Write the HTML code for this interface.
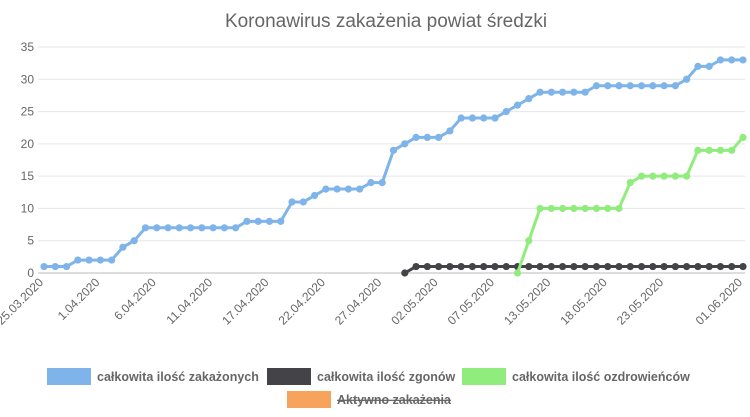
<!DOCTYPE html>
<html><head><meta charset="utf-8"><style>
body{margin:0;background:#fff;}
svg{display:block;font-family:"Liberation Sans",Arial,sans-serif;}
</style></head><body>
<svg id="chart" width="750" height="417" viewBox="0 0 750 417">
<text x="386" y="27" text-anchor="middle" font-size="19" fill="#666">Koronawirus zakażenia powiat średzki</text>
<g id="grid"></g><g id="xlabels"></g><g id="series"></g>
<g font-size="12.5" font-weight="bold" fill="#666">
<g><rect x="47" y="368" width="44" height="17" fill="#7eb4ea"/><text x="97" y="381">całkowita ilość zakażonych</text></g>
<g><rect x="267" y="368" width="44" height="17" fill="#434348"/><text x="317" y="381">całkowita ilość zgonów</text></g>
<g><rect x="462" y="368" width="44" height="17" fill="#90ed7d"/><text x="512" y="381">całkowita ilość ozdrowieńców</text></g>
<g><rect x="287" y="391" width="44" height="17" fill="#f7a35c"/><text x="337" y="404" text-decoration="line-through">Aktywno zakażenia</text></g>
</g>
</svg>
<script>
const infected=[1,1,1,2,2,2,2,4,5,7,7,7,7,7,7,7,7,7,8,8,8,8,11,11,12,13,13,13,13,14,14,19,20,21,21,21,22,24,24,24,24,25,26,27,28,28,28,28,28,29,29,29,29,29,29,29,29,30,32,32,33,33,33];
const deaths=[null,null,null,null,null,null,null,null,null,null,null,null,null,null,null,null,null,null,null,null,null,null,null,null,null,null,null,null,null,null,null,null,0,1,1,1,1,1,1,1,1,1,1,1,1,1,1,1,1,1,1,1,1,1,1,1,1,1,1,1,1,1,1];
const recovered=[null,null,null,null,null,null,null,null,null,null,null,null,null,null,null,null,null,null,null,null,null,null,null,null,null,null,null,null,null,null,null,null,null,null,null,null,null,null,null,null,null,null,0,5,10,10,10,10,10,10,10,10,14,15,15,15,15,15,19,19,19,19,21];
const tickLabelIdx=[0,5,10,15,20,25,30,35,40,45,50,55,62];
const tickLabels=["25.03.2020","1.04.2020","6.04.2020","11.04.2020","17.04.2020","22.04.2020","27.04.2020","02.05.2020","07.05.2020","13.05.2020","18.05.2020","23.05.2020","01.06.2020"];
const yTicks=[0,5,10,15,20,25,30,35];
const NS="http://www.w3.org/2000/svg";
const N=infected.length;
const X0=44,X1=743,Y0=273,Y1=47,YMAX=35;
const xs=i=>X0+(X1-X0)*i/(N-1);
const ys=v=>Y0-(Y0-Y1)*v/YMAX;
function mk(t,a,p){const e=document.createElementNS(NS,t);for(const k in a)e.setAttribute(k,a[k]);p.appendChild(e);return e;}
const grid=document.getElementById('grid');
yTicks.forEach(v=>{
 const l=mk('line',{x1:38,x2:745,y1:ys(v),y2:ys(v),stroke:v===0?'#bbb':'#e6e6e6','stroke-width':1},grid);
 
 
 const t=mk('text',{x:34,y:ys(v)+4,'text-anchor':'end','font-size':12,fill:'#666'},grid);
 t.textContent=v;
 
 
});
const xl=document.getElementById('xlabels');
tickLabelIdx.forEach((idx,k)=>{
 const x=xs(idx),y=283;
 const t=mk('text',{x:x,y:y,'text-anchor':'end','font-size':12,fill:'#666',transform:`rotate(-45 ${x} ${y})`},xl);
 t.textContent=tickLabels[k];
 
 
});
const sg=document.getElementById('series');
function draw(arr,color,name){
 const pts=[];arr.forEach((v,i)=>{if(v!==null)pts.push([xs(i),ys(v)]);});
 const p=mk('polyline',{points:pts.map(p=>p.join(',')).join(' '),fill:'none',stroke:color,'stroke-width':3,'stroke-linejoin':'round'},sg);
 
 
 pts.forEach(q=>{
  const c=mk('circle',{cx:q[0],cy:q[1],r:3.6,fill:color},sg);
  
  
 });
}
draw(infected,'#7eb4ea','infected');
draw(deaths,'#434348','deaths');
draw(recovered,'#90ed7d','recovered');
</script>
</body></html>
